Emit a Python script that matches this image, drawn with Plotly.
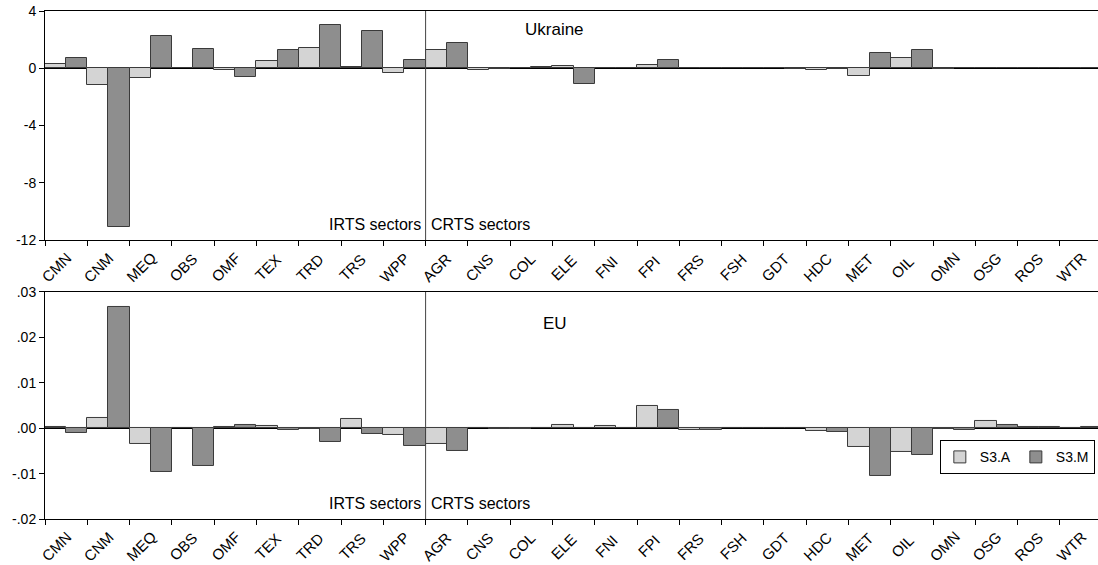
import plotly.graph_objects as go

sectors = ["CMN", "CNM", "MEQ", "OBS", "OMF", "TEX", "TRD", "TRS", "WPP",
           "AGR", "CNS", "COL", "ELE", "FNI", "FPI", "FRS", "FSH", "GDT",
           "HDC", "MET", "OIL", "OMN", "OSG", "ROS", "WTR"]

ukr_s3a = [0.27, -1.2, -0.65, 0.05, -0.1, 0.5, 1.4, 0.1, -0.3,
           1.25, -0.1, 0.05, 0.15, 0.02, 0.2, 0.02, 0.0, 0.05,
           -0.15, -0.55, 0.7, -0.05, 0.02, 0.02, 0.0]
ukr_s3m = [0.75, -11.1, 2.25, 1.35, -0.6, 1.3, 3.0, 2.6, 0.55,
           1.75, -0.05, 0.1, -1.1, 0.02, 0.55, 0.02, 0.0, -0.03,
           -0.08, 1.1, 1.25, 0.02, 0.02, 0.02, 0.03]

eu_s3a = [0.0002, 0.0022, -0.0035, 0.0, 0.0003, 0.0005, -0.0002, 0.0021, -0.0015,
          -0.0035, 0.0, -0.0001, 0.0006, 0.0004, 0.0050, -0.0003, 0.0, 0.0,
          -0.0006, -0.0042, -0.0053, -0.0001, 0.0015, 0.0002, 0.0001]
eu_s3m = [-0.0010, 0.0267, -0.0096, -0.0083, 0.0008, -0.0005, -0.0030, -0.0012, -0.0039,
          -0.0051, -0.0002, 0.0, 0.0001, 0.0001, 0.0040, -0.0004, 0.0, 0.0,
          -0.0009, -0.0105, -0.0060, -0.0003, 0.0008, 0.0002, 0.0002]

ukr_ticks = [4, 0, -4, -8, -12]
ukr_ticktext = ["4", "0", "-4", "-8", "-12"]
eu_ticks = [0.03, 0.02, 0.01, 0.0, -0.01, -0.02]
eu_ticktext = [".03", ".02", ".01", ".00", "-.01", "-.02"]

LIGHT = "#d4d4d4"
DARK = "#8e8e8e"
EDGE = "#3a3a3a"
FONT = "Liberation Sans"

fig = go.Figure()

def add_bars(vals_a, vals_m, xa, ya, show):
    fig.add_trace(go.Bar(x=sectors, y=vals_a, name="S3.A", offset=0, width=0.5,
                         marker=dict(color=LIGHT, line=dict(color=EDGE, width=1)),
                         xaxis=xa, yaxis=ya, showlegend=show, legendgroup="a"))
    fig.add_trace(go.Bar(x=sectors, y=vals_m, name="S3.M", offset=0.5, width=0.5,
                         marker=dict(color=DARK, line=dict(color=EDGE, width=1)),
                         xaxis=xa, yaxis=ya, showlegend=show, legendgroup="m"))

add_bars(ukr_s3a, ukr_s3m, "x", "y", False)
add_bars(eu_s3a, eu_s3m, "x2", "y2", True)

ycommon = dict(showline=True, linecolor="black", linewidth=1, ticks="outside",
               ticklen=5, tickcolor="black", showgrid=False, zeroline=True,
               zerolinecolor="black", zerolinewidth=1, automargin=False,
               tickfont=dict(family=FONT, size=14, color="black"))

fig.update_layout(
    width=1098, height=565,
    margin=dict(l=45, r=0, t=11, b=46),
    paper_bgcolor="white", plot_bgcolor="white",
    barmode="overlay", bargap=0,
    font=dict(family=FONT, size=14, color="black"),
    xaxis=dict(anchor="y", domain=[0, 1]),
    yaxis=dict(**ycommon, domain=[0.5492, 1.0], range=[-12, 4],
               tickvals=ukr_ticks, ticktext=ukr_ticktext),
    xaxis2=dict(anchor="y2", domain=[0, 1]),
    yaxis2=dict(**ycommon, domain=[0.0, 0.4469], range=[-0.02, 0.03],
                tickvals=eu_ticks, ticktext=eu_ticktext),
    legend=dict(orientation="h", x=0.997, y=0.088, xanchor="right", yanchor="bottom",
                bordercolor="black", borderwidth=1, bgcolor="white",
                font=dict(family=FONT, size=14, color="black"),
                tracegroupgap=0, itemwidth=30),
    showlegend=True,
)

fig.update_xaxes(type="category", categoryorder="array", categoryarray=sectors,
                 range=[0, 24.9], showline=True, linecolor="black", linewidth=1,
                 mirror=True, ticks="outside", ticklen=5, tickcolor="black",
                 showticklabels=False, showgrid=False, zeroline=False,
                 automargin=False)

# rotated category labels under each panel
for xr, yr in (("x", "y"), ("x2", "y2")):
    for s in sectors:
        fig.add_annotation(xref=xr, yref=f"{yr} domain", x=s, y=0, text=s,
                           textangle=-45, showarrow=False,
                           xanchor="center", yanchor="middle",
                           xshift=11, yshift=-27,
                           font=dict(family=FONT, size=15, color="black"))

for xr, yr in (("x", "y"), ("x2", "y2")):
    fig.add_shape(type="line", xref=xr, yref=f"{yr} domain", x0=9, x1=9, y0=0, y1=1,
                  line=dict(color="#444444", width=1))
    fig.add_annotation(xref=xr, yref=f"{yr} domain", x=9, y=0.02, text="IRTS sectors",
                       showarrow=False, xanchor="right", yanchor="bottom", xshift=-3,
                       font=dict(family=FONT, size=16, color="black"))
    fig.add_annotation(xref=xr, yref=f"{yr} domain", x=9, y=0.02, text="CRTS sectors",
                       showarrow=False, xanchor="left", yanchor="bottom", xshift=3,
                       font=dict(family=FONT, size=16, color="black"))

fig.add_annotation(xref="x", yref="y domain", x=12.05, y=0.92, text="Ukraine",
                   showarrow=False, xanchor="center", yanchor="middle",
                   font=dict(family=FONT, size=17, color="black"))
fig.add_annotation(xref="x2", yref="y2 domain", x=12.05, y=0.86, text="EU",
                   showarrow=False, xanchor="center", yanchor="middle",
                   font=dict(family=FONT, size=17, color="black"))

fig.write_html("out.html")
